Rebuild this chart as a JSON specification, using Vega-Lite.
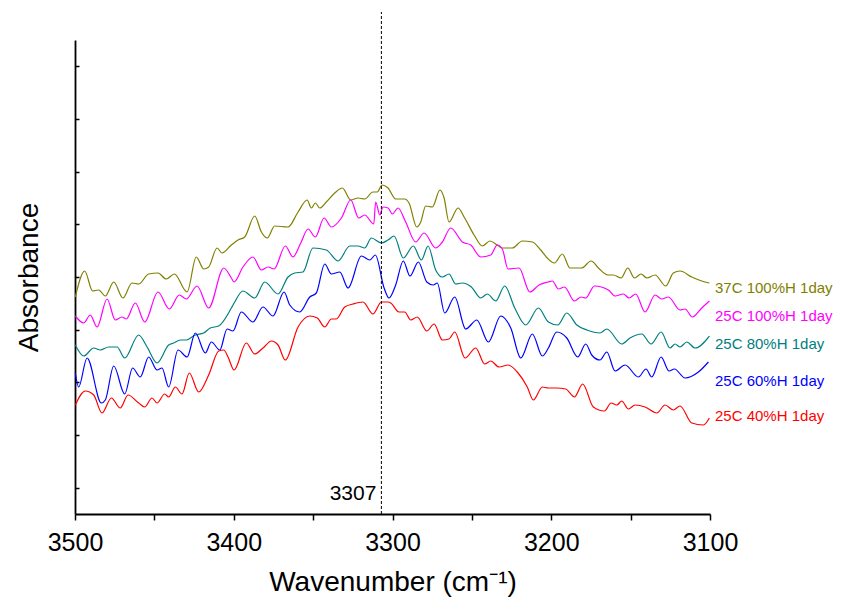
{
  "$schema": "https://vega.github.io/schema/vega-lite/v6.json",
  "width": 635,
  "height": 474,
  "autosize": "none",
  "padding": {"left": 75, "top": 40, "right": 133, "bottom": 90},
  "background": "white",
  "config": {"view": {"stroke": null}, "font": "Liberation Sans"},
  "datasets": {
    "spectra": [
      {"series":"37C100","wn":3499.8,"abs":0.217},{"series":"37C100","wn":3493.9,"abs":0.243},{"series":"37C100","wn":3488.9,"abs":0.223},{"series":"37C100","wn":3485.1,"abs":0.224},{"series":"37C100","wn":3480.9,"abs":0.218},{"series":"37C100","wn":3475.6,"abs":0.232},{"series":"37C100","wn":3469.8,"abs":0.216},{"series":"37C100","wn":3464.1,"abs":0.231},{"series":"37C100","wn":3459.9,"abs":0.230},{"series":"37C100","wn":3453.6,"abs":0.240},{"series":"37C100","wn":3447.7,"abs":0.241},{"series":"37C100","wn":3442.5,"abs":0.235},{"series":"37C100","wn":3437.4,"abs":0.240},{"series":"37C100","wn":3429.4,"abs":0.222},{"series":"37C100","wn":3423.6,"abs":0.257},{"series":"37C100","wn":3418.9,"abs":0.245},{"series":"37C100","wn":3415.8,"abs":0.247},{"series":"37C100","wn":3410.5,"abs":0.266},{"series":"37C100","wn":3407.4,"abs":0.261},{"series":"37C100","wn":3401.5,"abs":0.269},{"series":"37C100","wn":3397.3,"abs":0.274},{"series":"37C100","wn":3393.1,"abs":0.277},{"series":"37C100","wn":3386.8,"abs":0.298},{"series":"37C100","wn":3382.6,"abs":0.282},{"series":"37C100","wn":3378.9,"abs":0.276},{"series":"37C100","wn":3374.2,"abs":0.288},{"series":"37C100","wn":3365.8,"abs":0.287},{"series":"37C100","wn":3359.5,"abs":0.302},{"series":"37C100","wn":3353.8,"abs":0.314},{"series":"37C100","wn":3351.1,"abs":0.306},{"series":"37C100","wn":3348.6,"abs":0.311},{"series":"37C100","wn":3345.8,"abs":0.306},{"series":"37C100","wn":3341.7,"abs":0.312},{"series":"37C100","wn":3336.4,"abs":0.321},{"series":"37C100","wn":3331.6,"abs":0.326},{"series":"37C100","wn":3326.3,"abs":0.314},{"series":"37C100","wn":3321.7,"abs":0.316},{"series":"37C100","wn":3317.5,"abs":0.315},{"series":"37C100","wn":3312.3,"abs":0.322},{"series":"37C100","wn":3309.6,"abs":0.322},{"series":"37C100","wn":3306.6,"abs":0.329},{"series":"37C100","wn":3302.8,"abs":0.326},{"series":"37C100","wn":3298.0,"abs":0.315},{"series":"37C100","wn":3292.3,"abs":0.315},{"series":"37C100","wn":3289.6,"abs":0.311},{"series":"37C100","wn":3284.7,"abs":0.287},{"series":"37C100","wn":3282.2,"abs":0.292},{"series":"37C100","wn":3279.1,"abs":0.308},{"series":"37C100","wn":3274.9,"abs":0.307},{"series":"37C100","wn":3270.1,"abs":0.324},{"series":"37C100","wn":3267.5,"abs":0.316},{"series":"37C100","wn":3264.4,"abs":0.292},{"series":"37C100","wn":3258.7,"abs":0.306},{"series":"37C100","wn":3254.9,"abs":0.297},{"series":"37C100","wn":3248.6,"abs":0.279},{"series":"37C100","wn":3243.4,"abs":0.268},{"series":"37C100","wn":3238.6,"abs":0.273},{"series":"37C100","wn":3234.0,"abs":0.269},{"series":"37C100","wn":3230.8,"abs":0.266},{"series":"37C100","wn":3224.5,"abs":0.266},{"series":"37C100","wn":3218.2,"abs":0.273},{"series":"37C100","wn":3211.9,"abs":0.272},{"series":"37C100","wn":3206.6,"abs":0.264},{"series":"37C100","wn":3202.5,"abs":0.256},{"series":"37C100","wn":3198.0,"abs":0.251},{"series":"37C100","wn":3193.0,"abs":0.260},{"series":"37C100","wn":3188.2,"abs":0.246},{"series":"37C100","wn":3180.8,"abs":0.246},{"series":"37C100","wn":3174.9,"abs":0.253},{"series":"37C100","wn":3170.3,"abs":0.246},{"series":"37C100","wn":3164.4,"abs":0.239},{"series":"37C100","wn":3160.9,"abs":0.239},{"series":"37C100","wn":3156.0,"abs":0.236},{"series":"37C100","wn":3151.8,"abs":0.246},{"series":"37C100","wn":3147.6,"abs":0.236},{"series":"37C100","wn":3143.4,"abs":0.240},{"series":"37C100","wn":3139.8,"abs":0.236},{"series":"37C100","wn":3134.6,"abs":0.239},{"series":"37C100","wn":3127.9,"abs":0.228},{"series":"37C100","wn":3123.1,"abs":0.241},{"series":"37C100","wn":3118.9,"abs":0.243},{"series":"37C100","wn":3111.5,"abs":0.237},{"series":"37C100","wn":3105.2,"abs":0.233},{"series":"37C100","wn":3100.4,"abs":0.231},

      {"series":"25C100","wn":3499.8,"abs":0.198},{"series":"25C100","wn":3494.5,"abs":0.191},{"series":"25C100","wn":3490.4,"abs":0.199},{"series":"25C100","wn":3486.1,"abs":0.187},{"series":"25C100","wn":3479.8,"abs":0.215},{"series":"25C100","wn":3474.6,"abs":0.194},{"series":"25C100","wn":3470.4,"abs":0.197},{"series":"25C100","wn":3467.7,"abs":0.195},{"series":"25C100","wn":3462.0,"abs":0.211},{"series":"25C100","wn":3456.1,"abs":0.192},{"series":"25C100","wn":3447.7,"abs":0.222},{"series":"25C100","wn":3440.6,"abs":0.205},{"series":"25C100","wn":3434.3,"abs":0.219},{"series":"25C100","wn":3429.9,"abs":0.215},{"series":"25C100","wn":3423.1,"abs":0.228},{"series":"25C100","wn":3415.8,"abs":0.206},{"series":"25C100","wn":3406.3,"abs":0.246},{"series":"25C100","wn":3401.5,"abs":0.236},{"series":"25C100","wn":3399.8,"abs":0.232},{"series":"25C100","wn":3394.2,"abs":0.247},{"series":"25C100","wn":3387.9,"abs":0.257},{"series":"25C100","wn":3382.6,"abs":0.244},{"series":"25C100","wn":3378.4,"abs":0.247},{"series":"25C100","wn":3374.6,"abs":0.245},{"series":"25C100","wn":3367.5,"abs":0.268},{"series":"25C100","wn":3362.7,"abs":0.257},{"series":"25C100","wn":3357.8,"abs":0.271},{"series":"25C100","wn":3353.2,"abs":0.285},{"series":"25C100","wn":3348.6,"abs":0.277},{"series":"25C100","wn":3343.1,"abs":0.296},{"series":"25C100","wn":3338.5,"abs":0.287},{"series":"25C100","wn":3332.2,"abs":0.296},{"series":"25C100","wn":3326.3,"abs":0.314},{"series":"25C100","wn":3321.3,"abs":0.296},{"series":"25C100","wn":3317.5,"abs":0.299},{"series":"25C100","wn":3311.8,"abs":0.290},{"series":"25C100","wn":3310.6,"abs":0.312},{"series":"25C100","wn":3308.0,"abs":0.299},{"series":"25C100","wn":3306.0,"abs":0.307},{"series":"25C100","wn":3302.8,"abs":0.306},{"series":"25C100","wn":3300.1,"abs":0.300},{"series":"25C100","wn":3296.5,"abs":0.306},{"series":"25C100","wn":3291.7,"abs":0.292},{"series":"25C100","wn":3285.4,"abs":0.272},{"series":"25C100","wn":3280.1,"abs":0.281},{"series":"25C100","wn":3272.8,"abs":0.266},{"series":"25C100","wn":3268.6,"abs":0.272},{"series":"25C100","wn":3263.3,"abs":0.286},{"series":"25C100","wn":3256.0,"abs":0.272},{"series":"25C100","wn":3250.7,"abs":0.269},{"series":"25C100","wn":3244.4,"abs":0.257},{"series":"25C100","wn":3238.1,"abs":0.259},{"series":"25C100","wn":3234.0,"abs":0.269},{"series":"25C100","wn":3230.8,"abs":0.265},{"series":"25C100","wn":3227.2,"abs":0.245},{"series":"25C100","wn":3220.3,"abs":0.246},{"series":"25C100","wn":3213.5,"abs":0.222},{"series":"25C100","wn":3207.7,"abs":0.229},{"series":"25C100","wn":3202.0,"abs":0.232},{"series":"25C100","wn":3199.3,"abs":0.233},{"series":"25C100","wn":3195.5,"abs":0.225},{"series":"25C100","wn":3191.7,"abs":0.227},{"series":"25C100","wn":3185.4,"abs":0.213},{"series":"25C100","wn":3181.2,"abs":0.217},{"series":"25C100","wn":3178.3,"abs":0.216},{"series":"25C100","wn":3172.8,"abs":0.228},{"series":"25C100","wn":3164.0,"abs":0.224},{"series":"25C100","wn":3159.8,"abs":0.218},{"series":"25C100","wn":3154.6,"abs":0.220},{"series":"25C100","wn":3151.0,"abs":0.216},{"series":"25C100","wn":3146.8,"abs":0.220},{"series":"25C100","wn":3140.9,"abs":0.202},{"series":"25C100","wn":3134.6,"abs":0.219},{"series":"25C100","wn":3130.4,"abs":0.215},{"series":"25C100","wn":3126.2,"abs":0.217},{"series":"25C100","wn":3118.9,"abs":0.204},{"series":"25C100","wn":3115.7,"abs":0.205},{"series":"25C100","wn":3111.1,"abs":0.197},{"series":"25C100","wn":3105.2,"abs":0.206},{"series":"25C100","wn":3100.4,"abs":0.213},

      {"series":"25C80","wn":3499.8,"abs":0.169},{"series":"25C80","wn":3494.5,"abs":0.158},{"series":"25C80","wn":3488.2,"abs":0.166},{"series":"25C80","wn":3484.1,"abs":0.164},{"series":"25C80","wn":3478.8,"abs":0.167},{"series":"25C80","wn":3473.5,"abs":0.167},{"series":"25C80","wn":3468.7,"abs":0.156},{"series":"25C80","wn":3459.9,"abs":0.179},{"series":"25C80","wn":3454.6,"abs":0.167},{"series":"25C80","wn":3448.3,"abs":0.151},{"series":"25C80","wn":3441.0,"abs":0.169},{"series":"25C80","wn":3437.8,"abs":0.171},{"series":"25C80","wn":3433.7,"abs":0.174},{"series":"25C80","wn":3429.9,"abs":0.174},{"series":"25C80","wn":3424.2,"abs":0.179},{"series":"25C80","wn":3418.9,"abs":0.181},{"series":"25C80","wn":3414.8,"abs":0.186},{"series":"25C80","wn":3409.5,"abs":0.188},{"series":"25C80","wn":3401.5,"abs":0.206},{"series":"25C80","wn":3399.4,"abs":0.212},{"series":"25C80","wn":3394.2,"abs":0.223},{"series":"25C80","wn":3386.8,"abs":0.216},{"series":"25C80","wn":3380.5,"abs":0.232},{"series":"25C80","wn":3372.1,"abs":0.220},{"series":"25C80","wn":3365.8,"abs":0.237},{"series":"25C80","wn":3361.6,"abs":0.241},{"series":"25C80","wn":3356.4,"abs":0.242},{"series":"25C80","wn":3350.1,"abs":0.266},{"series":"25C80","wn":3341.7,"abs":0.264},{"series":"25C80","wn":3334.3,"abs":0.253},{"series":"25C80","wn":3326.9,"abs":0.268},{"series":"25C80","wn":3321.7,"abs":0.268},{"series":"25C80","wn":3317.5,"abs":0.266},{"series":"25C80","wn":3313.3,"abs":0.276},{"series":"25C80","wn":3307.0,"abs":0.271},{"series":"25C80","wn":3302.8,"abs":0.274},{"series":"25C80","wn":3299.0,"abs":0.278},{"series":"25C80","wn":3293.2,"abs":0.256},{"series":"25C80","wn":3286.9,"abs":0.268},{"series":"25C80","wn":3281.8,"abs":0.254},{"series":"25C80","wn":3277.6,"abs":0.268},{"series":"25C80","wn":3272.8,"abs":0.244},{"series":"25C80","wn":3268.6,"abs":0.237},{"series":"25C80","wn":3264.4,"abs":0.240},{"series":"25C80","wn":3260.2,"abs":0.230},{"series":"25C80","wn":3256.0,"abs":0.231},{"series":"25C80","wn":3250.3,"abs":0.227},{"series":"25C80","wn":3244.4,"abs":0.216},{"series":"25C80","wn":3240.3,"abs":0.220},{"series":"25C80","wn":3235.0,"abs":0.213},{"series":"25C80","wn":3229.3,"abs":0.228},{"series":"25C80","wn":3223.0,"abs":0.206},{"series":"25C80","wn":3216.1,"abs":0.189},{"series":"25C80","wn":3208.1,"abs":0.206},{"series":"25C80","wn":3201.8,"abs":0.192},{"series":"25C80","wn":3195.9,"abs":0.189},{"series":"25C80","wn":3190.2,"abs":0.201},{"series":"25C80","wn":3183.9,"abs":0.189},{"series":"25C80","wn":3177.6,"abs":0.184},{"series":"25C80","wn":3169.3,"abs":0.181},{"series":"25C80","wn":3165.0,"abs":0.185},{"series":"25C80","wn":3155.6,"abs":0.170},{"series":"25C80","wn":3150.4,"abs":0.176},{"series":"25C80","wn":3143.0,"abs":0.180},{"series":"25C80","wn":3137.1,"abs":0.170},{"series":"25C80","wn":3130.8,"abs":0.182},{"series":"25C80","wn":3125.2,"abs":0.166},{"series":"25C80","wn":3122.0,"abs":0.170},{"series":"25C80","wn":3118.9,"abs":0.167},{"series":"25C80","wn":3114.6,"abs":0.172},{"series":"25C80","wn":3109.4,"abs":0.166},{"series":"25C80","wn":3100.4,"abs":0.178},

      {"series":"25C60","wn":3499.8,"abs":0.141},{"series":"25C60","wn":3497.7,"abs":0.127},{"series":"25C60","wn":3492.4,"abs":0.156},{"series":"25C60","wn":3483.4,"abs":0.111},{"series":"25C60","wn":3480.9,"abs":0.114},{"series":"25C60","wn":3475.6,"abs":0.148},{"series":"25C60","wn":3468.7,"abs":0.120},{"series":"25C60","wn":3463.7,"abs":0.146},{"series":"25C60","wn":3458.9,"abs":0.137},{"series":"25C60","wn":3453.6,"abs":0.157},{"series":"25C60","wn":3448.3,"abs":0.144},{"series":"25C60","wn":3445.2,"abs":0.146},{"series":"25C60","wn":3441.0,"abs":0.127},{"series":"25C60","wn":3435.1,"abs":0.164},{"series":"25C60","wn":3429.4,"abs":0.157},{"series":"25C60","wn":3424.2,"abs":0.181},{"series":"25C60","wn":3417.9,"abs":0.161},{"series":"25C60","wn":3414.1,"abs":0.172},{"series":"25C60","wn":3408.8,"abs":0.164},{"series":"25C60","wn":3404.2,"abs":0.185},{"series":"25C60","wn":3400.5,"abs":0.183},{"series":"25C60","wn":3395.2,"abs":0.202},{"series":"25C60","wn":3387.9,"abs":0.192},{"series":"25C60","wn":3381.6,"abs":0.207},{"series":"25C60","wn":3375.3,"abs":0.198},{"series":"25C60","wn":3368.3,"abs":0.222},{"series":"25C60","wn":3364.7,"abs":0.209},{"series":"25C60","wn":3358.4,"abs":0.202},{"series":"25C60","wn":3352.1,"abs":0.217},{"series":"25C60","wn":3348.0,"abs":0.221},{"series":"25C60","wn":3342.7,"abs":0.250},{"series":"25C60","wn":3338.5,"abs":0.240},{"series":"25C60","wn":3333.2,"abs":0.242},{"series":"25C60","wn":3328.0,"abs":0.226},{"series":"25C60","wn":3319.6,"abs":0.258},{"series":"25C60","wn":3314.3,"abs":0.254},{"series":"25C60","wn":3310.8,"abs":0.259},{"series":"25C60","wn":3305.3,"abs":0.226},{"series":"25C60","wn":3302.2,"abs":0.216},{"series":"25C60","wn":3298.0,"abs":0.229},{"series":"25C60","wn":3293.2,"abs":0.253},{"series":"25C60","wn":3289.0,"abs":0.238},{"series":"25C60","wn":3283.7,"abs":0.252},{"series":"25C60","wn":3278.4,"abs":0.232},{"series":"25C60","wn":3274.3,"abs":0.229},{"series":"25C60","wn":3271.8,"abs":0.231},{"series":"25C60","wn":3267.1,"abs":0.201},{"series":"25C60","wn":3260.8,"abs":0.217},{"series":"25C60","wn":3253.9,"abs":0.185},{"series":"25C60","wn":3246.9,"abs":0.194},{"series":"25C60","wn":3239.6,"abs":0.172},{"series":"25C60","wn":3231.8,"abs":0.198},{"series":"25C60","wn":3225.5,"abs":0.186},{"series":"25C60","wn":3219.2,"abs":0.156},{"series":"25C60","wn":3211.9,"abs":0.180},{"series":"25C60","wn":3205.6,"abs":0.158},{"series":"25C60","wn":3201.8,"abs":0.166},{"series":"25C60","wn":3196.5,"abs":0.182},{"series":"25C60","wn":3190.2,"abs":0.176},{"series":"25C60","wn":3183.3,"abs":0.157},{"series":"25C60","wn":3178.3,"abs":0.170},{"series":"25C60","wn":3174.5,"abs":0.159},{"series":"25C60","wn":3169.3,"abs":0.154},{"series":"25C60","wn":3165.0,"abs":0.162},{"series":"25C60","wn":3159.8,"abs":0.143},{"series":"25C60","wn":3153.5,"abs":0.149},{"series":"25C60","wn":3145.1,"abs":0.137},{"series":"25C60","wn":3140.3,"abs":0.145},{"series":"25C60","wn":3136.7,"abs":0.137},{"series":"25C60","wn":3130.8,"abs":0.157},{"series":"25C60","wn":3125.8,"abs":0.143},{"series":"25C60","wn":3122.4,"abs":0.145},{"series":"25C60","wn":3115.7,"abs":0.136},{"series":"25C60","wn":3107.3,"abs":0.142},{"series":"25C60","wn":3101.0,"abs":0.152},

      {"series":"25C40","wn":3499.8,"abs":0.109},{"series":"25C40","wn":3493.5,"abs":0.123},{"series":"25C40","wn":3488.2,"abs":0.119},{"series":"25C40","wn":3483.0,"abs":0.101},{"series":"25C40","wn":3477.1,"abs":0.116},{"series":"25C40","wn":3471.5,"abs":0.106},{"series":"25C40","wn":3466.6,"abs":0.119},{"series":"25C40","wn":3459.9,"abs":0.111},{"series":"25C40","wn":3456.1,"abs":0.107},{"series":"25C40","wn":3451.5,"abs":0.116},{"series":"25C40","wn":3448.3,"abs":0.111},{"series":"25C40","wn":3443.5,"abs":0.120},{"series":"25C40","wn":3441.0,"abs":0.117},{"series":"25C40","wn":3436.8,"abs":0.127},{"series":"25C40","wn":3432.6,"abs":0.120},{"series":"25C40","wn":3428.0,"abs":0.141},{"series":"25C40","wn":3422.1,"abs":0.122},{"series":"25C40","wn":3415.8,"abs":0.139},{"series":"25C40","wn":3409.5,"abs":0.163},{"series":"25C40","wn":3406.3,"abs":0.164},{"series":"25C40","wn":3403.6,"abs":0.157},{"series":"25C40","wn":3399.8,"abs":0.144},{"series":"25C40","wn":3392.1,"abs":0.171},{"series":"25C40","wn":3386.8,"abs":0.160},{"series":"25C40","wn":3381.6,"abs":0.166},{"series":"25C40","wn":3376.3,"abs":0.173},{"series":"25C40","wn":3372.1,"abs":0.169},{"series":"25C40","wn":3367.5,"abs":0.154},{"series":"25C40","wn":3359.5,"abs":0.187},{"series":"25C40","wn":3352.1,"abs":0.198},{"series":"25C40","wn":3347.4,"abs":0.196},{"series":"25C40","wn":3342.7,"abs":0.187},{"series":"25C40","wn":3338.5,"abs":0.195},{"series":"25C40","wn":3335.4,"abs":0.195},{"series":"25C40","wn":3330.1,"abs":0.207},{"series":"25C40","wn":3324.9,"abs":0.210},{"series":"25C40","wn":3318.6,"abs":0.212},{"series":"25C40","wn":3312.3,"abs":0.200},{"series":"25C40","wn":3307.0,"abs":0.212},{"series":"25C40","wn":3302.8,"abs":0.212},{"series":"25C40","wn":3301.1,"abs":0.211},{"series":"25C40","wn":3295.9,"abs":0.202},{"series":"25C40","wn":3292.3,"abs":0.202},{"series":"25C40","wn":3288.5,"abs":0.194},{"series":"25C40","wn":3284.4,"abs":0.197},{"series":"25C40","wn":3278.4,"abs":0.183},{"series":"25C40","wn":3273.8,"abs":0.190},{"series":"25C40","wn":3268.6,"abs":0.174},{"series":"25C40","wn":3264.4,"abs":0.175},{"series":"25C40","wn":3260.8,"abs":0.182},{"series":"25C40","wn":3254.3,"abs":0.156},{"series":"25C40","wn":3247.6,"abs":0.166},{"series":"25C40","wn":3241.9,"abs":0.150},{"series":"25C40","wn":3238.1,"abs":0.153},{"series":"25C40","wn":3232.9,"abs":0.147},{"series":"25C40","wn":3227.2,"abs":0.149},{"series":"25C40","wn":3221.4,"abs":0.142},{"series":"25C40","wn":3215.1,"abs":0.127},{"series":"25C40","wn":3211.3,"abs":0.114},{"series":"25C40","wn":3205.6,"abs":0.127},{"series":"25C40","wn":3201.8,"abs":0.126},{"series":"25C40","wn":3196.5,"abs":0.126},{"series":"25C40","wn":3190.9,"abs":0.125},{"series":"25C40","wn":3185.4,"abs":0.117},{"series":"25C40","wn":3180.2,"abs":0.130},{"series":"25C40","wn":3173.5,"abs":0.107},{"series":"25C40","wn":3166.5,"abs":0.103},{"series":"25C40","wn":3162.3,"abs":0.111},{"series":"25C40","wn":3158.7,"abs":0.109},{"series":"25C40","wn":3155.6,"abs":0.113},{"series":"25C40","wn":3151.4,"abs":0.105},{"series":"25C40","wn":3147.2,"abs":0.109},{"series":"25C40","wn":3140.9,"abs":0.107},{"series":"25C40","wn":3133.5,"abs":0.101},{"series":"25C40","wn":3128.3,"abs":0.109},{"series":"25C40","wn":3123.1,"abs":0.104},{"series":"25C40","wn":3118.9,"abs":0.108},{"series":"25C40","wn":3111.5,"abs":0.091},{"series":"25C40","wn":3104.2,"abs":0.089},{"series":"25C40","wn":3100.4,"abs":0.096}
    ],
    "marker": [{"wn": 3307, "abs": 0, "abs2": 0.502, "label": "3307", "labelAbs": 0.02}],
    "labels": [
      {"series": "37C100", "wn": 3100, "abs": 0.2265, "label": "37C 100%H 1day"},
      {"series": "25C100", "wn": 3100, "abs": 0.198, "label": "25C 100%H 1day"},
      {"series": "25C80", "wn": 3100, "abs": 0.170, "label": "25C 80%H 1day"},
      {"series": "25C60", "wn": 3100, "abs": 0.133, "label": "25C 60%H 1day"},
      {"series": "25C40", "wn": 3100, "abs": 0.098, "label": "25C 40%H 1day"}
    ]
  },
  "layer": [
    {
      "data": {"name": "spectra"},
      "mark": {"type": "line", "strokeWidth": 1.2, "interpolate": "monotone"},
      "encoding": {
        "x": {
          "field": "wn", "type": "quantitative",
          "scale": {"domain": [3100, 3500], "reverse": true, "nice": false, "zero": false},
          "axis": {
            "values": [3500, 3450, 3400, 3350, 3300, 3250, 3200, 3150, 3100],
            "format": "d",
            "labelExpr": "datum.value % 100 === 0 ? datum.label : ''",
            "grid": false, "tickSize": 6, "tickWidth": 1.5, "tickColor": "black",
            "domainColor": "black", "domainWidth": 1.8,
            "labelFontSize": 25, "labelColor": "black", "labelPadding": 10, "labelFont": "Liberation Sans", "labelFlush": false,
            "title": "Wavenumber (cm⁻¹)", "titleFontSize": 28, "titleFontWeight": "normal", "titleColor": "black", "titleFont": "Liberation Sans", "titlePadding": 13
          }
        },
        "y": {
          "field": "abs", "type": "quantitative",
          "scale": {"domain": [0, 0.474], "nice": false, "zero": false},
          "axis": {
            "values": [0.0263, 0.0527, 0.079, 0.1053, 0.1317, 0.158, 0.1843, 0.2107, 0.237, 0.2633, 0.2897, 0.316, 0.3423, 0.3687, 0.395, 0.4213, 0.4477],
            "labels": false, "grid": false, "tickSize": -4, "tickWidth": 1.5, "tickColor": "black",
            "domainColor": "black", "domainWidth": 1.8,
            "title": "Absorbance", "titleFontSize": 28, "titleFontWeight": "normal", "titleColor": "black", "titleFont": "Liberation Sans", "titlePadding": 31
          }
        },
        "color": {
          "field": "series", "type": "nominal",
          "scale": {"domain": ["37C100", "25C100", "25C80", "25C60", "25C40"], "range": ["#808000", "#FF00FF", "#008080", "#0000FF", "#FF0000"]},
          "legend": null
        }
      }
    },
    {
      "data": {"name": "marker"},
      "mark": {"type": "rule", "color": "black", "strokeWidth": 1, "strokeDash": [3, 2], "clip": false},
      "encoding": {
        "x": {"field": "wn", "type": "quantitative"},
        "y": {"field": "abs", "type": "quantitative"},
        "y2": {"field": "abs2"}
      }
    },
    {
      "data": {"name": "marker"},
      "mark": {"type": "text", "align": "right", "baseline": "middle", "dx": -5, "fontSize": 21, "font": "Liberation Sans", "color": "black"},
      "encoding": {
        "x": {"field": "wn", "type": "quantitative"},
        "y": {"field": "labelAbs", "type": "quantitative"},
        "text": {"field": "label"}
      }
    },
    {
      "data": {"name": "labels"},
      "mark": {"type": "text", "align": "left", "baseline": "middle", "dx": 5, "fontSize": 15, "font": "Liberation Sans", "clip": false},
      "encoding": {
        "x": {"field": "wn", "type": "quantitative"},
        "y": {"field": "abs", "type": "quantitative"},
        "text": {"field": "label"},
        "color": {"field": "series", "type": "nominal", "legend": null}
      }
    }
  ]
}
